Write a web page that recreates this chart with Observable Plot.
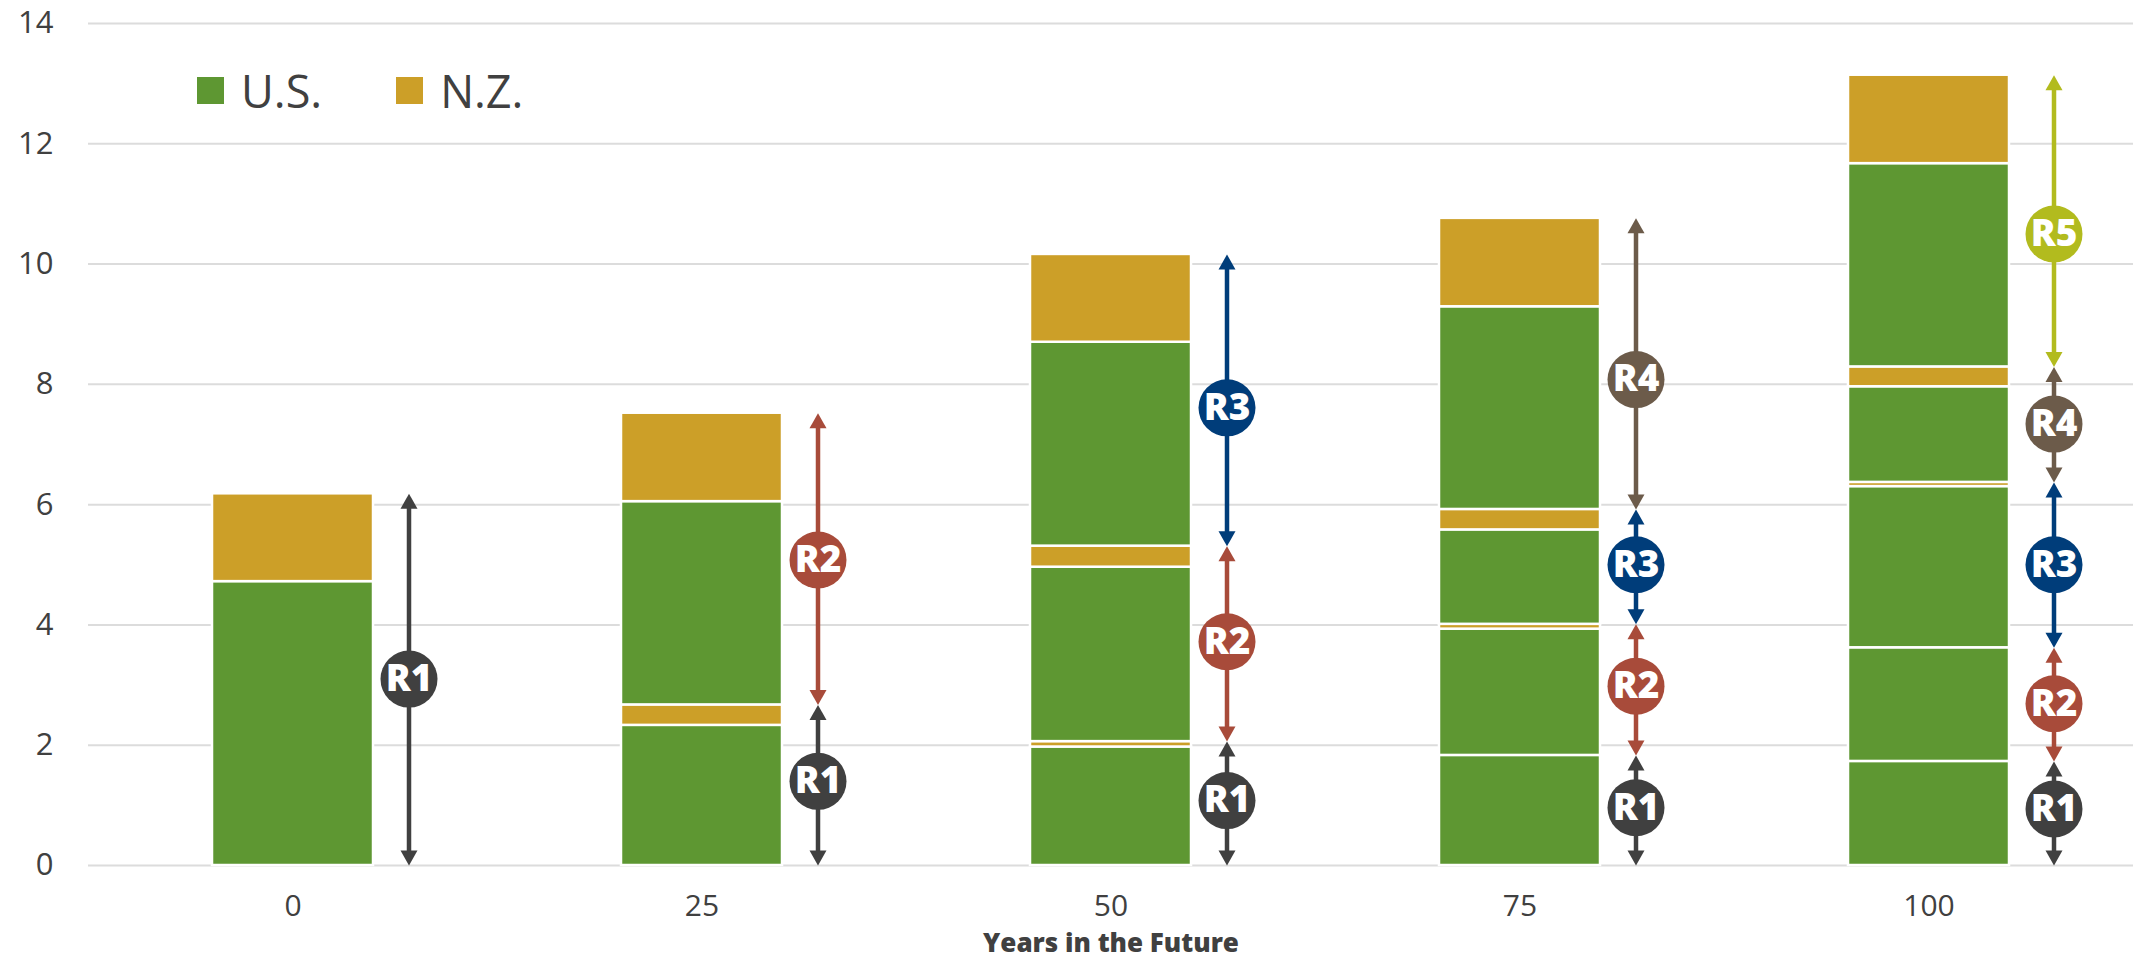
<!DOCTYPE html>
<html>
<head>
<meta charset="utf-8">
<script src="https://cdn.jsdelivr.net/npm/d3@7"></script>
<script src="https://cdn.jsdelivr.net/npm/@observablehq/plot@0.6"></script>
<style>
  html, body { margin: 0; padding: 0; background: #fff; }
  #wrap { position: relative; width: 2133px; height: 962px; overflow: hidden; }
  #legend { position: absolute; left: 197px; top: 60px; display: flex; align-items: center;
            font-family: "Open Sans", sans-serif; font-size: 45px; color: #404040; }
  .item { display: flex; align-items: center; margin-right: 74px; }
  .sw { width: 27px; height: 27px; margin-right: 17px; }
</style>
</head>
<body>
<div id="wrap">
  <div id="chart"></div>
  <div id="legend"></div>
</div>
<script>
// ---- data ----
const years = [0, 25, 50, 75, 100];
const regions = ["R1", "R2", "R3", "R4", "R5"];
const countries = ["U.S.", "N.Z."];
// U.S. contribution of each region at each year (rows: years, columns: regions)
const usValues = [
  [4.72],
  [2.33, 3.38],
  [1.97, 2.90, 3.39],
  [1.83, 2.10, 1.57, 3.37],
  [1.73, 1.89, 2.68, 1.59, 3.38]
];
// N.Z. contribution of each region at each year
const nzValues = [
  [1.46],
  [0.34, 1.47],
  [0.09, 0.35, 1.46],
  [0.00, 0.08, 0.34, 1.47],
  [0.00, 0.00, 0.07, 0.33, 1.47]
];
// vertical position (value units) of each region's label badge
const labelValues = [
  [3.10],
  [1.40, 5.08],
  [1.08, 3.72, 7.61],
  [0.96, 2.98, 5.00, 8.08],
  [0.94, 2.69, 5.00, 7.34, 10.50]
];
const yTicks = [0, 2, 4, 6, 8, 10, 12, 14];
const xTitle = "Years in the Future";

// ---- styles ----
const countryColor = {"U.S.": "#5E9732", "N.Z.": "#CC9F28"};
const regionColor = {R1: "#404040", R2: "#A84B3A", R3: "#003D7A", R4: "#6C5B4A", R5: "#B2BB1E"};

// ---- build tables ----
const segments = [];
const arrows = [];
years.forEach((year, i) => {
  let base = 0;
  usValues[i].forEach((us, j) => {
    const lo = base;
    segments.push({year, region: regions[j], country: countries[0], y1: base, y2: base + us});
    base += us;
    const nz = nzValues[i][j];
    segments.push({year, region: regions[j], country: countries[1], y1: base, y2: base + nz});
    base += nz;
    arrows.push({year, region: regions[j], lo, hi: base, label: labelValues[i][j]});
  });
});

// arrowheads: tip at the origin
const HW = 8.5, HH = 15;
const headUp = {draw(ctx) { ctx.moveTo(0, 0); ctx.lineTo(HW, HH); ctx.lineTo(-HW, HH); ctx.closePath(); }};
const headDown = {draw(ctx) { ctx.moveTo(0, 0); ctx.lineTo(HW, -HH); ctx.lineTo(-HW, -HH); ctx.closePath(); }};

function arrowMarks(data, dx) {
  const col = d => regionColor[d.region];
  return [
    Plot.ruleX(data, {x: "year", y1: "hi", y2: "lo", stroke: col, strokeWidth: 4.5, insetTop: 12, insetBottom: 12, dx}),
    Plot.dot(data, {x: "year", y: "hi", symbol: headUp, r: 8, fill: col, dx}),
    Plot.dot(data, {x: "year", y: "lo", symbol: headDown, r: 8, fill: col, dx}),
    Plot.dot(data, {x: "year", y: "label", r: 28.5, fill: col, dx}),
    Plot.text(data, {x: "year", y: "label", text: "region", fill: "white", fontSize: 37, fontWeight: 800,
                     fontFamily: "Open Sans", dx, dy: 0})
  ];
}

const chart = Plot.plot({
  width: 2133,
  height: 962,
  marginTop: 23,
  marginBottom: 97,
  marginLeft: 88,
  marginRight: 0,
  style: {fontFamily: "Open Sans", color: "#404040", background: "white", overflow: "visible"},
  x: {type: "band", domain: years, paddingInner: 0.607, paddingOuter: 0.3035, label: null},
  y: {domain: [0, 14], label: null},
  color: {type: "identity"},
  marks: [
    Plot.gridY(yTicks, {stroke: "#DCDCDC", strokeOpacity: 1, strokeWidth: 2}),
    Plot.axisY({ticks: yTicks, tickSize: 0, tickPadding: 35, fontSize: 31, label: null}),
    Plot.axisX({tickSize: 0, tickPadding: 29, fontSize: 30, label: null}),
    Plot.barY(segments, {x: "year", y1: "y1", y2: "y2", fill: d => countryColor[d.country], stroke: "white", strokeWidth: 2.5}),
    ...arrowMarks(arrows.filter(d => d.year !== 100), 116),
    ...arrowMarks(arrows.filter(d => d.year === 100), 125),
    Plot.text([xTitle], {text: d => d, frameAnchor: "bottom", dy: 86, fontSize: 26, fontWeight: 800, fontFamily: "Open Sans", fill: "#404040"})
  ]
});
document.getElementById("chart").appendChild(chart);

const legend = document.getElementById("legend");
countries.forEach(c => {
  const item = document.createElement("div");
  item.className = "item";
  const sw = document.createElement("div");
  sw.className = "sw";
  sw.style.background = countryColor[c];
  const t = document.createElement("span");
  t.textContent = c;
  item.appendChild(sw);
  item.appendChild(t);
  legend.appendChild(item);
});
</script>
</body>
</html>
